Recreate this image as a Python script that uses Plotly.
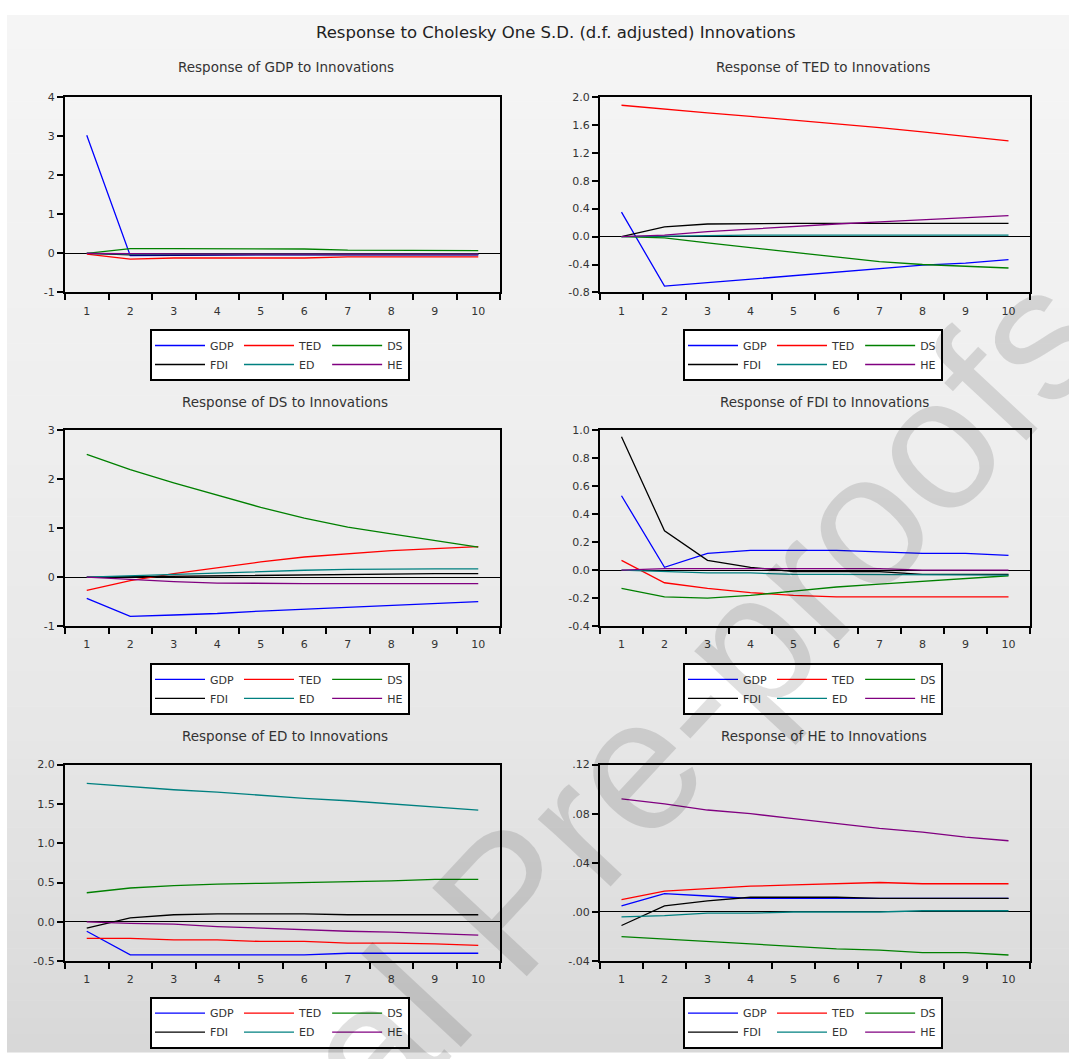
import numpy as np
import plotly.graph_objects as go

# ---------------- data ----------------
periods = [1, 2, 3, 4, 5, 6, 7, 8, 9, 10]
series_names = ["GDP", "TED", "DS", "FDI", "ED", "HE"]
series_colors = ["#0000ff", "#ff0000", "#008000", "#000000", "#008080", "#800080"]

resp_GDP = {
    "GDP": [3.02, -0.06, -0.05, -0.04, -0.04, -0.04, -0.04, -0.04, -0.04, -0.04],
    "TED": [-0.02, -0.15, -0.12, -0.12, -0.12, -0.12, -0.09, -0.09, -0.09, -0.09],
    "DS": [0.0, 0.12, 0.12, 0.12, 0.11, 0.11, 0.08, 0.08, 0.07, 0.07],
    "FDI": [0.0, -0.04, -0.04, -0.03, -0.03, -0.03, -0.03, -0.03, -0.03, -0.03],
    "ED": [0.0, -0.02, -0.02, -0.02, -0.02, -0.02, -0.02, -0.02, -0.02, -0.02],
    "HE": [0.0, -0.01, -0.02, -0.02, -0.02, -0.02, -0.02, -0.02, -0.02, -0.02],
}
resp_TED = {
    "GDP": [0.35, -0.71, -0.66, -0.61, -0.56, -0.51, -0.46, -0.41, -0.38, -0.33],
    "TED": [1.88, 1.82, 1.77, 1.72, 1.67, 1.62, 1.56, 1.50, 1.44, 1.37],
    "DS": [0.0, -0.02, -0.09, -0.16, -0.23, -0.30, -0.36, -0.40, -0.42, -0.45],
    "FDI": [0.0, 0.14, 0.18, 0.19, 0.19, 0.19, 0.19, 0.19, 0.19, 0.19],
    "ED": [0.0, 0.01, 0.02, 0.02, 0.02, 0.02, 0.02, 0.02, 0.02, 0.02],
    "HE": [0.0, 0.02, 0.07, 0.11, 0.15, 0.18, 0.21, 0.24, 0.27, 0.30],
}
resp_DS = {
    "GDP": [-0.43, -0.80, -0.77, -0.74, -0.69, -0.65, -0.61, -0.57, -0.53, -0.50],
    "TED": [-0.27, -0.07, 0.07, 0.19, 0.31, 0.41, 0.48, 0.54, 0.58, 0.62],
    "DS": [2.50, 2.19, 1.92, 1.67, 1.42, 1.20, 1.02, 0.88, 0.75, 0.61],
    "FDI": [0.0, 0.01, 0.01, 0.02, 0.03, 0.04, 0.06, 0.06, 0.07, 0.07],
    "ED": [0.0, 0.03, 0.06, 0.09, 0.12, 0.14, 0.16, 0.17, 0.17, 0.17],
    "HE": [0.0, -0.05, -0.09, -0.12, -0.13, -0.13, -0.13, -0.13, -0.13, -0.13],
}
resp_FDI = {
    "GDP": [0.53, 0.02, 0.12, 0.14, 0.14, 0.14, 0.13, 0.12, 0.12, 0.105],
    "TED": [0.07, -0.09, -0.13, -0.16, -0.18, -0.19, -0.19, -0.19, -0.19, -0.19],
    "DS": [-0.13, -0.19, -0.20, -0.18, -0.15, -0.12, -0.10, -0.08, -0.06, -0.04],
    "FDI": [0.95, 0.28, 0.07, 0.02, -0.01, -0.01, -0.01, -0.03, -0.03, -0.03],
    "ED": [0.0, -0.01, -0.02, -0.02, -0.03, -0.03, -0.03, -0.03, -0.03, -0.035],
    "HE": [0.0, 0.01, 0.01, 0.01, 0.01, 0.01, 0.01, 0.0, 0.0, 0.0],
}
resp_ED = {
    "GDP": [-0.12, -0.42, -0.42, -0.42, -0.42, -0.42, -0.40, -0.40, -0.40, -0.40],
    "TED": [-0.21, -0.21, -0.23, -0.23, -0.25, -0.25, -0.27, -0.27, -0.28, -0.30],
    "DS": [0.37, 0.43, 0.46, 0.48, 0.49, 0.50, 0.51, 0.52, 0.54, 0.54],
    "FDI": [-0.08, 0.05, 0.09, 0.10, 0.10, 0.10, 0.09, 0.09, 0.09, 0.09],
    "ED": [1.76, 1.72, 1.68, 1.65, 1.61, 1.57, 1.54, 1.50, 1.46, 1.42],
    "HE": [0.0, -0.02, -0.03, -0.06, -0.08, -0.10, -0.12, -0.13, -0.15, -0.17],
}
resp_HE = {
    "GDP": [0.005, 0.015, 0.013, 0.011, 0.011, 0.011, 0.011, 0.011, 0.011, 0.011],
    "TED": [0.010, 0.017, 0.019, 0.021, 0.022, 0.023, 0.024, 0.023, 0.023, 0.023],
    "DS": [-0.020, -0.022, -0.024, -0.026, -0.028, -0.030, -0.031, -0.033, -0.033, -0.035],
    "FDI": [-0.011, 0.005, 0.009, 0.012, 0.012, 0.012, 0.011, 0.011, 0.011, 0.011],
    "ED": [-0.004, -0.003, -0.001, -0.001, 0.0, 0.0, 0.0, 0.001, 0.001, 0.001],
    "HE": [0.092, 0.088, 0.083, 0.080, 0.076, 0.072, 0.068, 0.065, 0.061, 0.058],
}

yticks_GDP = [-1, 0, 1, 2, 3, 4]
yticklabels_GDP = ["-1", "0", "1", "2", "3", "4"]
yticks_TED = [-0.8, -0.4, 0.0, 0.4, 0.8, 1.2, 1.6, 2.0]
yticklabels_TED = ["-0.8", "-0.4", "0.0", "0.4", "0.8", "1.2", "1.6", "2.0"]
yticks_DS = [-1, 0, 1, 2, 3]
yticklabels_DS = ["-1", "0", "1", "2", "3"]
yticks_FDI = [-0.4, -0.2, 0.0, 0.2, 0.4, 0.6, 0.8, 1.0]
yticklabels_FDI = ["-0.4", "-0.2", "0.0", "0.2", "0.4", "0.6", "0.8", "1.0"]
yticks_ED = [-0.5, 0.0, 0.5, 1.0, 1.5, 2.0]
yticklabels_ED = ["-0.5", "0.0", "0.5", "1.0", "1.5", "2.0"]
yticks_HE = [-0.04, 0.0, 0.04, 0.08, 0.12]
yticklabels_HE = ["-.04", ".00", ".04", ".08", ".12"]

main_title = "Response to Cholesky One S.D. (d.f. adjusted) Innovations"
panel_titles = ["Response of GDP to Innovations", "Response of TED to Innovations",
                "Response of DS to Innovations", "Response of FDI to Innovations",
                "Response of ED to Innovations", "Response of HE to Innovations"]
watermark_text = "Journal Pre-proofs"

# ---------------- layout helpers (pixels) ----------------
W, H = 1069, 1059
def px(x):
    return x / W
def py(y):
    return 1 - y / H

panels = [
    # data, yticks, yticklabels, (left, right, top, bottom), title cx, title y, legend cx, legend top
    (resp_GDP, yticks_GDP, yticklabels_GDP, (65, 500, 92, 290), 286, 62, 280, 327),
    (resp_TED, yticks_TED, yticklabels_TED, (600, 1030, 92, 290), 823, 62, 813, 327),
    (resp_DS, yticks_DS, yticklabels_DS, (65, 500, 429, 628), 285, 401, 280, 665),
    (resp_FDI, yticks_FDI, yticklabels_FDI, (600, 1030, 429, 628), 824, 401, 813, 665),
    (resp_ED, yticks_ED, yticklabels_ED, (65, 500, 768, 967), 285, 739, 280, 1003),
    (resp_HE, yticks_HE, yticklabels_HE, (600, 1030, 768, 967), 824, 739, 813, 1003),
]

FONT = "DejaVu Sans"
TXT = "#333333"

fig = go.Figure()
layout = dict(
    width=W, height=H,
    margin=dict(l=0, r=0, t=0, b=0),
    paper_bgcolor="white",
    plot_bgcolor="white",
    font=dict(family=FONT, size=11, color=TXT),
    showlegend=True,
)

annotations = []
shapes = []

# background gradient bands (styling)
stops_y = [9, 400, 700, 850, 1059]
stops_c = [245, 239, 232, 226, 216]
nb = 60
edges = np.linspace(9, H, nb + 1)
for i in range(nb):
    ymid = 0.5 * (edges[i] + edges[i + 1])
    c = int(round(np.interp(ymid, stops_y, stops_c)))
    shapes.append(dict(type="rect", xref="paper", yref="paper",
                       x0=px(7), x1=1, y0=py(edges[i + 1] + 0.5), y1=py(edges[i]),
                       fillcolor=f"rgb({c},{c},{c})", line=dict(width=0), layer="below"))

half_ticks = [p - 0.5 for p in periods] + [periods[-1] + 0.5]

for k, (data, yt, ytl, (l, r, t, b), tcx, ty, lcx, ltop) in enumerate(panels):
    n = k + 1
    xa = "x" if n == 1 else f"x{n}"
    ya = "y" if n == 1 else f"y{n}"
    leg = "legend" if n == 1 else f"legend{n}"
    groups = {"GDP": "c1", "FDI": "c1", "TED": "c2", "ED": "c2", "DS": "c3", "HE": "c3"}
    for name, color in zip(series_names, series_colors):
        fig.add_trace(go.Scatter(
            x=periods, y=data[name], mode="lines", name=name,
            line=dict(color=color, width=1.3),
            xaxis=xa, yaxis=ya, legend=leg,
            legendgroup=f"p{n}{groups[name]}",
        ))
    layout[f"xaxis{'' if n == 1 else n}"] = dict(
        domain=[px(l), px(r)], anchor=ya, range=[0.5, 10.5],
        tickmode="array", tickvals=periods, ticktext=[str(p) for p in periods],
        ticks="outside", ticklen=7, tickcolor="rgba(0,0,0,0)",
        showline=True, linecolor="black", linewidth=2, mirror=True,
        showgrid=False, zeroline=False, fixedrange=True,
        tickfont=dict(family=FONT, size=11, color=TXT),
        minor=dict(tickmode="array", tickvals=half_ticks, ticks="outside",
                   ticklen=6, tickcolor="black", tickwidth=1.5),
    )
    layout[f"yaxis{'' if n == 1 else n}"] = dict(
        domain=[py(b), py(t)], anchor=xa, range=[yt[0], yt[-1]],
        tickmode="array", tickvals=yt, ticktext=ytl,
        ticks="outside", ticklen=6, tickcolor="black", tickwidth=1.5,
        showline=True, linecolor="black", linewidth=2, mirror=True,
        showgrid=False, zeroline=True, zerolinecolor="black", zerolinewidth=1.2,
        fixedrange=True,
        tickfont=dict(family=FONT, size=11, color=TXT),
    )
    layout[leg] = dict(
        orientation="h", traceorder="grouped",
        x=px(lcx), y=py(ltop), xanchor="center", yanchor="top",
        bgcolor="white", bordercolor="black", borderwidth=2,
        font=dict(family=FONT, size=11, color=TXT),
        itemwidth=50, tracegroupgap=0,
    )
    annotations.append(dict(
        text=panel_titles[k], xref="paper", yref="paper",
        x=px(tcx), y=py(ty), xanchor="center", yanchor="middle", showarrow=False,
        font=dict(family=FONT, size=13.5, color=TXT),
    ))

annotations.append(dict(
    text=main_title, xref="paper", yref="paper",
    x=px(556), y=py(27), xanchor="center", yanchor="middle", showarrow=False,
    font=dict(family=FONT, size=16.5, color="#222222"),
))
annotations.append(dict(
    text=watermark_text, xref="paper", yref="paper",
    x=px(540), y=py(872), xanchor="center", yanchor="middle", showarrow=False,
    textangle=-47,
    font=dict(family="Liberation Sans, Arial", size=188, color="rgba(0,0,0,0.12)"),
))

layout["annotations"] = annotations
layout["shapes"] = shapes
fig.update_layout(**layout)
fig.write_html(
    "out.html",
    config={"displayModeBar": False},
    post_script="document.body.style.margin='0';document.body.style.padding='0';",
)
